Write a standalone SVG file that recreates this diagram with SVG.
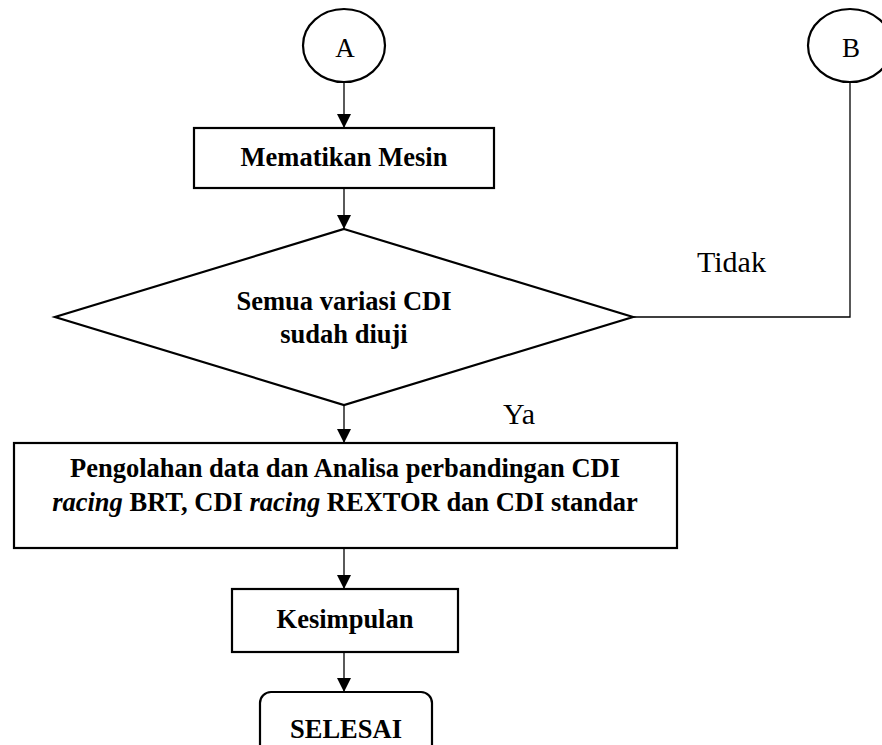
<svg xmlns="http://www.w3.org/2000/svg" width="882" height="745" viewBox="0 0 882 745">
<style>
.shape{fill:#fff;stroke:#000;stroke-width:2.2}
.conn{fill:none;stroke:#000;stroke-width:1.3}
.b{font-family:"Liberation Serif","Times New Roman",serif;font-weight:bold;font-size:26.5px;text-anchor:middle;fill:#000}
.r{font-family:"Liberation Serif","Times New Roman",serif;font-size:30px;fill:#000}
.c{font-family:"Liberation Serif","Times New Roman",serif;font-size:27px;text-anchor:middle;fill:#000}
</style>
<defs>
<marker id="ah" viewBox="0 0 14 14" refX="14" refY="7" markerWidth="14" markerHeight="14" markerUnits="userSpaceOnUse" orient="auto">
<path d="M0,0 L14,7 L0,14 Z" fill="#000"/>
</marker>
</defs>
<rect width="882" height="745" fill="#fff"/>
<g id="connectors">
<line class="conn" x1="344" y1="82" x2="344" y2="128" marker-end="url(#ah)"/>
<line class="conn" x1="344" y1="188" x2="344" y2="229" marker-end="url(#ah)"/>
<polyline class="conn" points="633,317 850,317 850,82"/>
<line class="conn" x1="344" y1="405" x2="344" y2="443" marker-end="url(#ah)"/>
<line class="conn" x1="344" y1="548" x2="344" y2="589" marker-end="url(#ah)"/>
<line class="conn" x1="344" y1="652" x2="344" y2="692" marker-end="url(#ah)"/>
<text class="r" x="697" y="272">Tidak</text>
<text class="r" x="503" y="424">Ya</text>
</g>
<g id="nodeA">
<ellipse class="shape" cx="344" cy="45.5" rx="41" ry="36.5"/>
<text class="c" x="345" y="57">A</text>
</g>
<g id="nodeB">
<ellipse class="shape" cx="850" cy="45.5" rx="42" ry="36.5"/>
<text class="c" x="851" y="57">B</text>
</g>
<g id="mematikan">
<rect class="shape" x="194" y="128" width="300" height="60"/>
<text class="b" x="344" y="166">Mematikan Mesin</text>
</g>
<g id="decision">
<polygon class="shape" points="344,229 633,317 344,405 55,317"/>
<text class="b" x="344" y="310">Semua variasi CDI</text>
<text class="b" x="344" y="343">sudah diuji</text>
</g>
<g id="pengolahan">
<rect class="shape" x="14" y="443" width="663" height="105"/>
<text class="b" x="345" y="477">Pengolahan data dan Analisa perbandingan CDI</text>
<text class="b" x="345" y="511"><tspan font-style="italic">racing</tspan> BRT, CDI <tspan font-style="italic">racing</tspan> REXTOR dan CDI standar</text>
</g>
<g id="kesimpulan">
<rect class="shape" x="232" y="589" width="226" height="63"/>
<text class="b" x="345" y="628">Kesimpulan</text>
</g>
<g id="selesai">
<rect class="shape" x="260" y="692" width="172" height="70" rx="11"/>
<text class="b" x="346" y="738">SELESAI</text>
</g>
</svg>
